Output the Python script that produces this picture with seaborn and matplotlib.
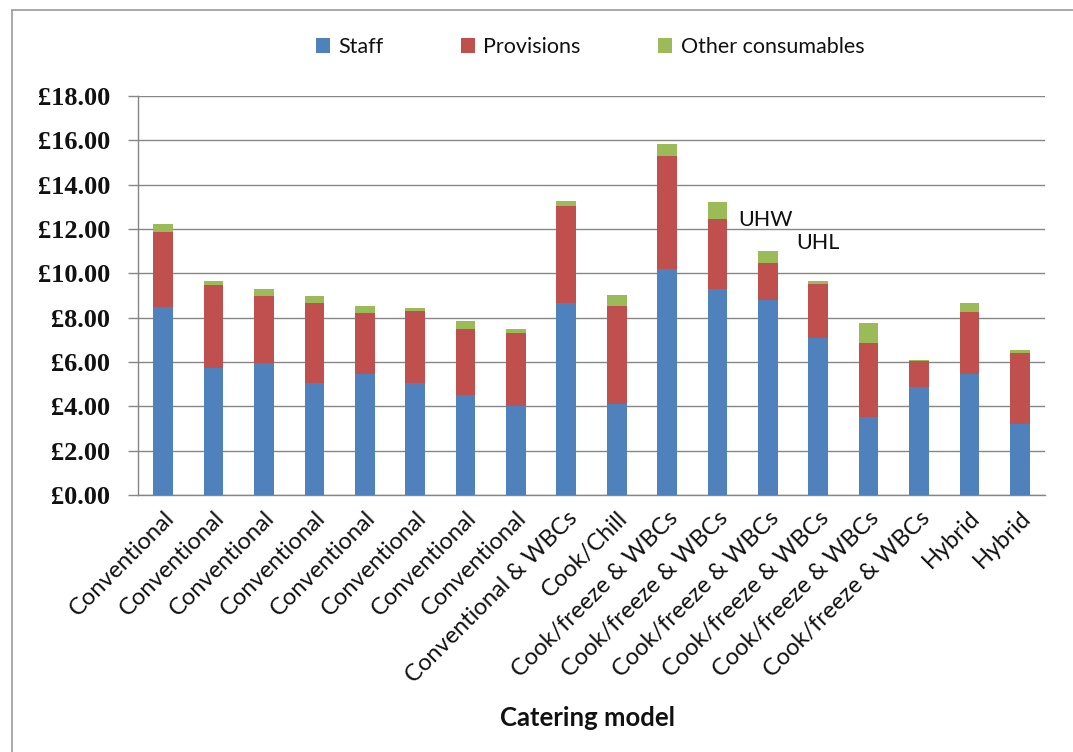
import matplotlib
matplotlib.use("Agg")
import matplotlib.pyplot as plt
import matplotlib.ticker as mticker
from matplotlib.lines import Line2D
from matplotlib.patches import Patch
import seaborn as sns
import numpy as np
import pandas as pd

categories = ["Conventional"] * 8 + ["Conventional & WBCs", "Cook/Chill"] + \
             ["Cook/freeze & WBCs"] * 6 + ["Hybrid", "Hybrid"]
staff = [8.49, 5.71, 5.97, 5.04, 5.44, 5.07, 4.51, 4.01, 8.67, 4.10,
         10.18, 9.29, 8.80, 7.07, 3.50, 4.89, 5.44, 3.20]
provisions = [3.37, 3.76, 3.01, 3.62, 2.76, 3.24, 2.98, 3.30, 4.38, 4.42,
              5.12, 3.15, 1.65, 2.46, 3.34, 1.17, 2.83, 3.22]
other = [0.36, 0.20, 0.30, 0.30, 0.31, 0.12, 0.37, 0.18, 0.21, 0.51,
         0.52, 0.76, 0.57, 0.14, 0.92, 0.03, 0.38, 0.11]
series_names = ["Staff", "Provisions", "Other consumables"]
annotations = [("UHW", 11.42, 12.4), ("UHL", 12.56, 11.37)]

sns.set_style("white")
plt.rcParams['font.family'] = ['Lato', 'DejaVu Sans']

colors = {"Staff": "#4F81BD", "Provisions": "#C0504D", "Other consumables": "#9BBB59"}

df = pd.DataFrame({"pos": np.arange(len(categories)),
                   "staff": staff, "provisions": provisions, "other": other})
df["sp"] = df["staff"] + df["provisions"]
df["total"] = df["sp"] + df["other"]

fig = plt.figure(figsize=(10.73, 7.52), dpi=100)
ax = fig.add_axes([138 / 1073, 1 - 495 / 752, (1045 - 138) / 1073, (495 - 96) / 752])

for col, name in [("total", "Other consumables"), ("sp", "Provisions"), ("staff", "Staff")]:
    sns.barplot(data=df, x="pos", y=col, color=colors[name], width=0.39,
                saturation=1, ax=ax, linewidth=0, zorder=3)

ax.set_xlim(-0.5, len(categories) - 0.5)
ax.set_ylim(0, 18)
ax.yaxis.set_major_locator(mticker.MultipleLocator(2))
ax.yaxis.set_major_formatter(mticker.FuncFormatter(lambda v, p: f"£{v:.2f}"))
ax.grid(axis="y", color="#868686", linewidth=1.0, zorder=0)
ax.set_axisbelow(True)

for s in ["top", "right"]:
    ax.spines[s].set_visible(False)
for s in ["left", "bottom"]:
    ax.spines[s].set_color("#868686")
    ax.spines[s].set_linewidth(1.0)

ax.set_xticks(np.arange(len(categories)))
ax.set_xticklabels(categories, rotation=45, ha="right", rotation_mode="anchor",
                   fontsize=17, color="#111111")
ax.set_xticks(np.arange(-0.5, len(categories)), minor=True)
ax.tick_params(axis="x", which="major", length=0, pad=9)
ax.tick_params(axis="x", which="minor", length=5, color="#868686", width=1, direction="out")
ax.tick_params(axis="y", which="major", length=7, color="#868686", width=1, direction="out",
               pad=13, left=True)
for lbl in ax.get_yticklabels():
    lbl.set_fontfamily(["Liberation Serif", "DejaVu Serif"])
    lbl.set_fontweight("bold")
    lbl.set_fontsize(19)
    lbl.set_color("#111111")

ax.set_ylabel("")
ax.set_xlabel("Catering model", fontsize=18.5, fontweight="bold", color="#111111")
ax.xaxis.set_label_coords(588 / 1073 * 1073 / 907 - 138 / 907, -(718 - 495) / (495 - 96))
ax.xaxis.label.set_va("center")

for txt, xv, yv in annotations:
    ax.text(xv, yv, txt, fontsize=15.5, color="#111111", va="center", ha="left", zorder=5)

handles = [Patch(facecolor=colors[n], edgecolor="none") for n in series_names]
leg = fig.legend(handles, series_names, loc="center", bbox_to_anchor=(590 / 1073, 1 - 47 / 752),
                 ncol=3, frameon=False, fontsize=15.5, handlelength=0.65, handleheight=0.65,
                 columnspacing=3.6, handletextpad=0.4)
for t in leg.get_texts():
    t.set_color("#111111")

fig.add_artist(Line2D([12 / 1073, 1.0], [1 - 10 / 752, 1 - 10 / 752],
                      color="#9a9a9a", linewidth=1.2, transform=fig.transFigure))
fig.add_artist(Line2D([12 / 1073, 12 / 1073], [1 - 10 / 752, 0.0],
                      color="#9a9a9a", linewidth=1.2, transform=fig.transFigure))

fig.savefig("out.png", dpi=100)
